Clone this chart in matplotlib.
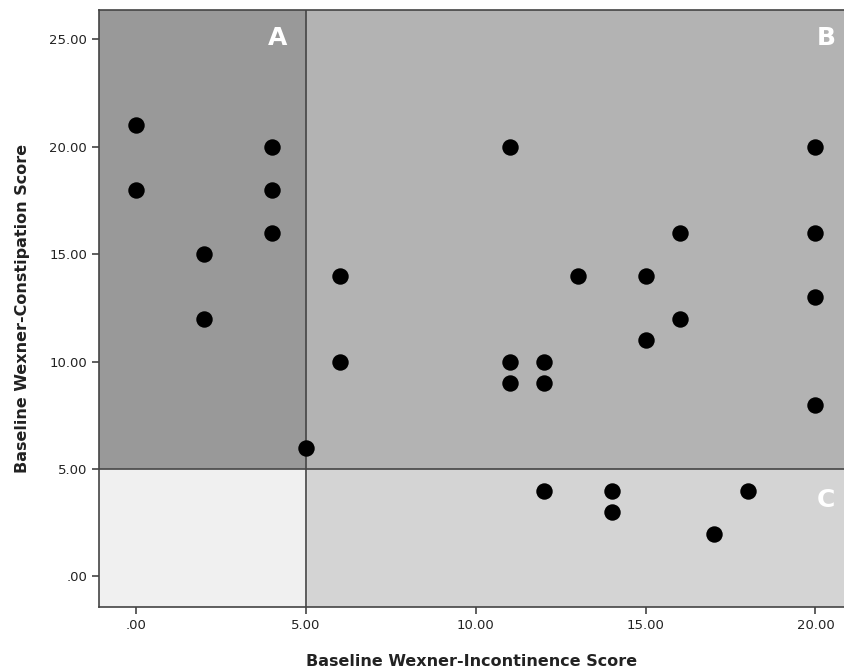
import matplotlib
matplotlib.use("Agg")
import matplotlib.pyplot as plt
from matplotlib.patches import Rectangle

incontinence = [0, 0, 2, 2, 4, 4, 4, 5, 6, 6, 11, 11, 11, 12, 12, 12, 13, 14, 14,
                15, 15, 16, 16, 17, 18, 20, 20, 20, 20]
constipation = [21, 18, 15, 12, 20, 18, 16, 6, 14, 10, 20, 10, 9, 10, 9, 4, 14, 4, 3,
                14, 11, 16, 12, 2, 4, 20, 16, 13, 8]
xticks = [0, 5, 10, 15, 20]
yticks = [0, 5, 10, 15, 20, 25]
tick_labels_x = [".00", "5.00", "10.00", "15.00", "20.00"]
tick_labels_y = [".00", "5.00", "10.00", "15.00", "20.00", "25.00"]
cut = 5

fig = plt.figure(figsize=(8.44, 6.71), dpi=100)
ax = fig.add_axes([99/844, 64/671, 745/844, 597/671])
xlo, xhi = -1.09, 20.84
ylo, yhi = -1.42, 26.36
ax.set_xlim(xlo, xhi)
ax.set_ylim(ylo, yhi)

ax.add_patch(Rectangle((xlo, cut), cut - xlo, yhi - cut, color="#999999", zorder=0))
ax.add_patch(Rectangle((cut, cut), xhi - cut, yhi - cut, color="#b3b3b3", zorder=0))
ax.add_patch(Rectangle((cut, ylo), xhi - cut, cut - ylo, color="#d4d4d4", zorder=0))
ax.add_patch(Rectangle((xlo, ylo), cut - xlo, cut - ylo, color="#f0f0f0", zorder=0))
ax.axvline(cut, color="#444444", lw=1.2, zorder=1)
ax.axhline(cut, color="#444444", lw=1.2, zorder=1)

ax.scatter(incontinence, constipation, s=140, color="black", zorder=3, linewidths=0)

for lbl, (x, y) in {"A": (4.18, 25.05), "B": (20.31, 25.05), "C": (20.31, 3.57)}.items():
    ax.text(x, y, lbl, color="white", fontsize=18, fontweight="bold",
            ha="center", va="center", zorder=4)

ax.set_xticks(xticks)
ax.set_xticklabels(tick_labels_x)
ax.set_yticks(yticks)
ax.set_yticklabels(tick_labels_y)
ax.tick_params(direction="out", length=5, width=1.2, color="#444444",
               labelsize=9.5, labelcolor="#222222")
for side in ["left", "bottom", "top"]:
    ax.spines[side].set_color("#444444")
    ax.spines[side].set_linewidth(1.2)
ax.spines["right"].set_visible(False)

ax.set_xlabel("Baseline Wexner-Incontinence Score", fontsize=11.5, fontweight="bold",
              labelpad=16, color="#222222")
ax.set_ylabel("Baseline Wexner-Constipation Score", fontsize=11.5, fontweight="bold",
              labelpad=14, color="#222222")

fig.savefig("out.png", dpi=100)
